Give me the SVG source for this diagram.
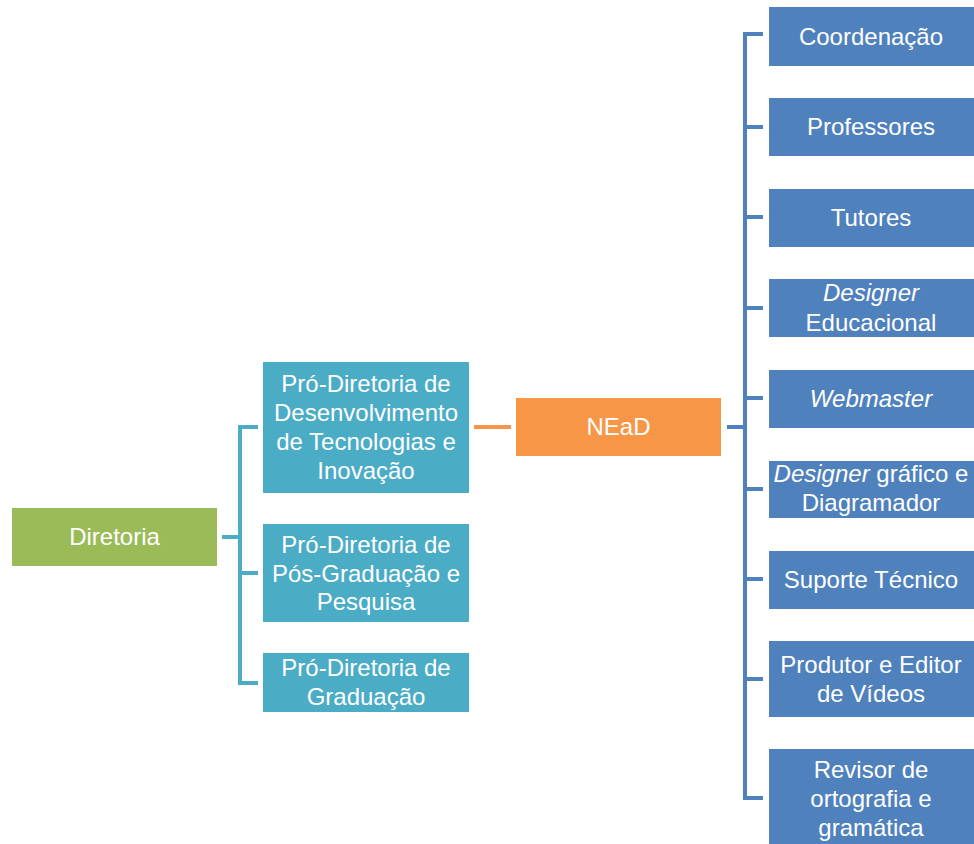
<svg xmlns="http://www.w3.org/2000/svg" width="974" height="844" viewBox="0 0 974 844">
<style>
text{font-family:"Liberation Sans",Arial,sans-serif;font-size:24px;fill:#fff;text-anchor:middle}
.g{fill:#9BBB59}.t{fill:#4BACC6}.o{fill:#F79646}.b{fill:#4F81BD}
.ct{stroke:#4BACC6;stroke-width:4;fill:none}
.cb{stroke:#4F81BD;stroke-width:4;fill:none}
.co{stroke:#F79646;stroke-width:4;fill:none}
</style>
<rect width="974" height="844" fill="#fff"/>
<g id="connectors">
<path class="ct" d="M222 537H240M258 427H240V683H258M240 573H258"/>
<path class="co" d="M474 427H511"/>
<path class="cb" d="M727 427H745M763 34H745V798H763M745 127H763M745 217H763M745 308H763M745 398H763M745 489H763M745 579H763M745 679H763"/>
</g>
<g id="diretoria"><rect class="g" x="12" y="508" width="205" height="58"/><text x="114.5" y="545">Diretoria</text></g>
<g id="pd-tec"><rect class="t" x="263" y="362" width="206" height="131"/><text x="366" y="392">Pró-Diretoria de</text><text x="366" y="421">Desenvolvimento</text><text x="366" y="450">de Tecnologias e</text><text x="366" y="479">Inovação</text></g>
<g id="pd-pos"><rect class="t" x="263" y="524" width="206" height="98"/><text x="366" y="553">Pró-Diretoria de</text><text x="366" y="582">Pós-Graduação e</text><text x="366" y="610">Pesquisa</text></g>
<g id="pd-grad"><rect class="t" x="263" y="653" width="206" height="59"/><text x="366" y="676">Pró-Diretoria de</text><text x="366" y="705">Graduação</text></g>
<g id="nead"><rect class="o" x="516" y="398" width="205" height="58"/><text x="618.5" y="435">NEaD</text></g>
<g id="coordenacao"><rect class="b" x="769" y="7" width="205" height="59"/><text x="871" y="45">Coordenação</text></g>
<g id="professores"><rect class="b" x="769" y="98" width="205" height="58"/><text x="871" y="135">Professores</text></g>
<g id="tutores"><rect class="b" x="769" y="189" width="205" height="58"/><text x="871" y="226">Tutores</text></g>
<g id="designer-edu"><rect class="b" x="769" y="279" width="205" height="58"/><text x="871" y="301" font-style="italic">Designer</text><text x="871" y="331">Educacional</text></g>
<g id="webmaster"><rect class="b" x="769" y="370" width="205" height="58"/><text x="871" y="407" font-style="italic">Webmaster</text></g>
<g id="designer-graf"><rect class="b" x="769" y="461" width="205" height="57"/><text x="871" y="482"><tspan font-style="italic">Designer</tspan> gráfico e</text><text x="871" y="511">Diagramador</text></g>
<g id="suporte"><rect class="b" x="769" y="551" width="205" height="58"/><text x="871" y="588">Suporte Técnico</text></g>
<g id="produtor"><rect class="b" x="769" y="641" width="205" height="76"/><text x="871" y="673">Produtor e Editor</text><text x="871" y="702">de Vídeos</text></g>
<g id="revisor"><rect class="b" x="769" y="749" width="205" height="98"/><text x="871" y="778">Revisor de</text><text x="871" y="807">ortografia e</text><text x="871" y="836">gramática</text></g>
</svg>
